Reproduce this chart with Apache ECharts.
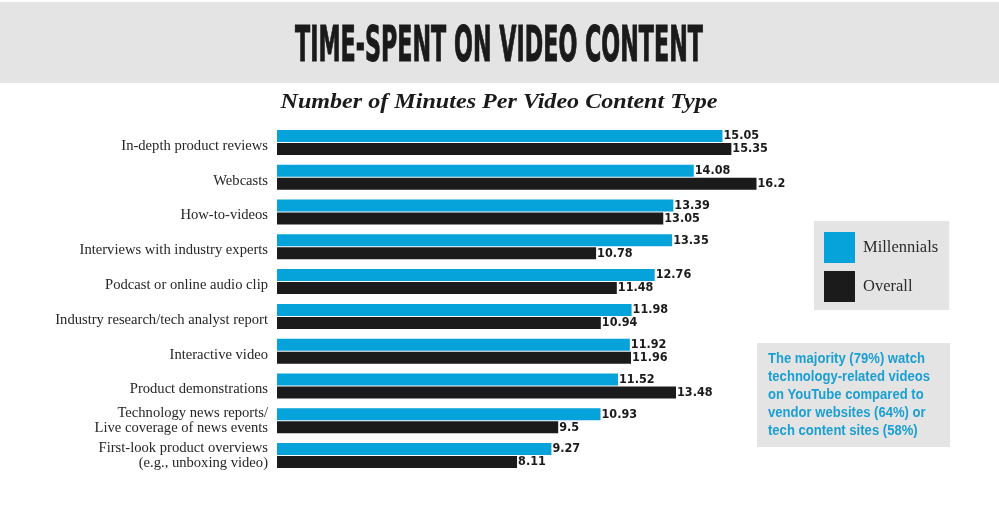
<!DOCTYPE html>
<html>
<head>
<meta charset="utf-8">
<script src="https://cdn.jsdelivr.net/npm/echarts@6/dist/echarts.min.js"></script>
<style>
  html, body { margin: 0; padding: 0; background: #fff; }
  #chart { width: 999px; height: 520px; }
</style>
</head>
<body>
<div id="chart"></div>
<script>
var categories = [
  'In-depth product reviews',
  'Webcasts',
  'How-to-videos',
  'Interviews with industry experts',
  'Podcast or online audio clip',
  'Industry research/tech analyst report',
  'Interactive video',
  'Product demonstrations',
  'Technology news reports/\nLive coverage of news events',
  'First-look product overviews\n(e.g., unboxing video)'
]
var millennials = [15.05, 14.08, 13.39, 13.35, 12.76, 11.98, 11.92, 11.52, 10.93, 9.27]
var overall = [15.35, 16.2, 13.05, 10.78, 11.48, 10.94, 11.96, 13.48, 9.5, 8.11]
var noteLines = [
  'The majority (79%) watch',
  'technology-related videos',
  'on YouTube compared to',
  'vendor websites (64%) or',
  'tech content sites (58%)'
]

var BLUE = '#06a2da'
var BLACK = '#1c1b1c'
var GREY = '#e4e4e4'

// squeeze text horizontally to the width it has in the picture
var ctx = document.createElement('canvas').getContext('2d')
function squeeze(text, font, target) {
  ctx.font = font
  return target / ctx.measureText(text).width
}

var titleFont = 'bold 50px "DejaVu Sans Condensed"'
var subFont = 'italic bold 22px "Liberation Serif"'
var noteFont = 'bold 14px "Liberation Sans"'
var noteScale = squeeze(noteLines[1], noteFont, 162)

var chart = echarts.init(document.querySelector('#chart'))

var valueLabel = {
  show: true,
  position: 'right',
  distance: 1,
  color: '#1a1a1a',
  fontFamily: 'DejaVu Sans Condensed',
  fontWeight: 'bold',
  fontSize: 12.5
}

var catText = {
  fontFamily: 'Liberation Serif',
  fontSize: 14.6,
  lineHeight: 15,
  color: '#262626'
}

var option = {
  animation: false,
  backgroundColor: '#fff',
  grid: { left: 277, top: 125, width: 592, height: 348 },
  xAxis: {
    type: 'value', min: 0, max: 20, show: false
  },
  yAxis: {
    type: 'category',
    data: categories,
    inverse: true,
    axisLine: { show: false },
    axisTick: { show: false },
    axisLabel: Object.assign({
      margin: 9,
      // one-line labels sit a little low in the original
      formatter: function (v) {
        return v.indexOf('\n') < 0 ? '{s|' + v + '}' : v
      },
      rich: { s: Object.assign({ padding: [7, 0, 0, 0] }, catText) }
    }, catText)
  },
  legend: {
    orient: 'vertical',
    left: 814,
    top: 221,
    padding: [11, 11, 8, 10],
    itemWidth: 31,
    itemHeight: 31,
    itemGap: 8,
    icon: 'rect',
    backgroundColor: GREY,
    textStyle: { fontFamily: 'Liberation Serif', fontSize: 16.5, color: '#2a2a2a', padding: [0, 0, 0, 3] },
    data: ['Millennials', 'Overall']
  },
  series: [
    {
      name: 'Millennials', type: 'bar', data: millennials,
      barWidth: 12, barGap: '8%',
      itemStyle: { color: BLUE },
      label: valueLabel
    },
    {
      name: 'Overall', type: 'bar', data: overall,
      barWidth: 12,
      itemStyle: { color: BLACK },
      label: valueLabel
    }
  ],
  graphic: [
    { type: 'rect', left: 0, top: 2, shape: { width: 999, height: 81 }, style: { fill: GREY }, z: -1 },
    {
      type: 'text', x: 499, y: 48,
      scaleX: squeeze('TIME-SPENT ON VIDEO CONTENT', titleFont, 408),
      style: {
        text: 'TIME-SPENT ON VIDEO CONTENT', font: titleFont, fill: '#1a1a1a',
        stroke: '#1a1a1a', lineWidth: 1,
        textAlign: 'center', textVerticalAlign: 'middle'
      }
    },
    {
      type: 'text', x: 499, y: 102,
      scaleX: squeeze('Number of Minutes Per Video Content Type', subFont, 437),
      style: {
        text: 'Number of Minutes Per Video Content Type', font: subFont, fill: '#1a1a1a',
        textAlign: 'center', textVerticalAlign: 'middle'
      }
    },
    { type: 'rect', left: 757, top: 343, shape: { width: 193, height: 104 }, style: { fill: GREY } },
    {
      type: 'text', x: 768, y: 350, scaleX: noteScale,
      style: {
        text: noteLines.join('\n'), font: noteFont, lineHeight: 18, fill: '#1b9fd2',
        textAlign: 'left', textVerticalAlign: 'top'
      }
    }
  ]
}

chart.setOption(option)
</script>
</body>
</html>
